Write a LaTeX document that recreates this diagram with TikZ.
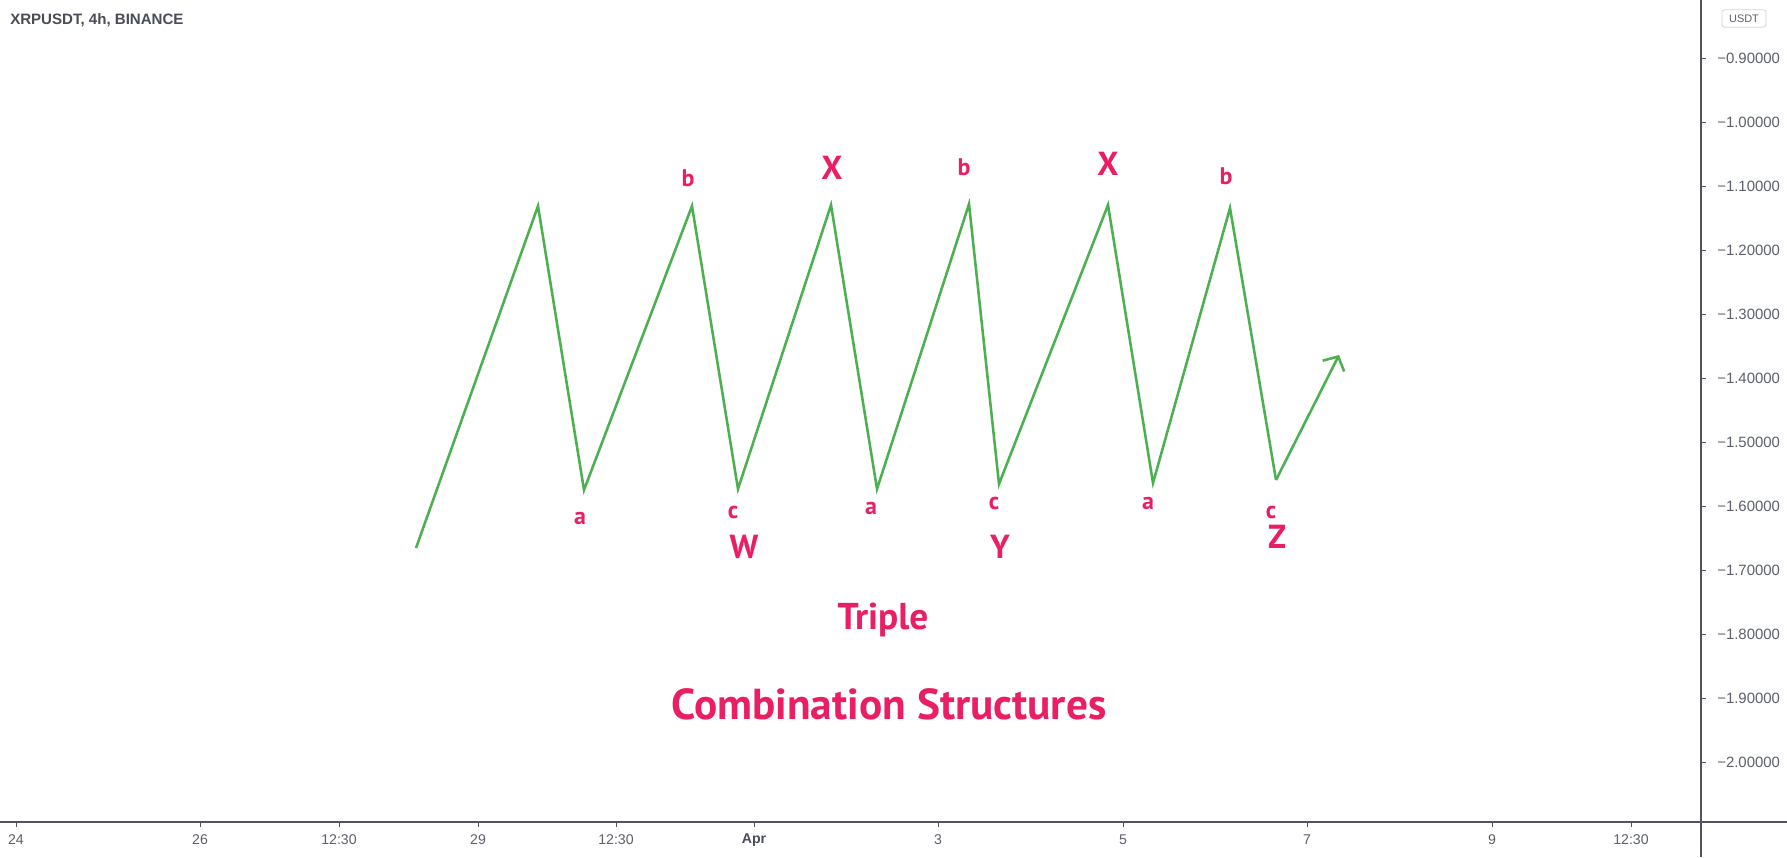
\documentclass[tikz,border=0pt]{standalone}
\usepackage{fontspec}
\setmainfont{PT Sans}
\newfontfamily\axisfont{Liberation Sans}
\usetikzlibrary{arrows.meta}
\definecolor{wave}{HTML}{4CAF50}
\definecolor{lab}{HTML}{E91E63}
\definecolor{axisline}{HTML}{50535E}
\definecolor{ticktext}{HTML}{5D606B}
\definecolor{boxline}{HTML}{D1D4DC}
\definecolor{titletext}{HTML}{4A4D59}
\begin{document}
\begin{tikzpicture}[x=0.75pt,y=-0.75pt,
  wavepath/.style={draw=wave, line width=1.9pt, line join=miter},
  smalllab/.style={text=lab, font=\bfseries\fontsize{18}{18}\selectfont, inner sep=0pt},
  biglab/.style={text=lab, font=\bfseries\fontsize{25}{25}\selectfont, inner sep=0pt},
  titlelab/.style={text=lab, font=\bfseries\fontsize{28}{28}\selectfont, inner sep=0pt, anchor=base},
  headlab/.style={text=lab, font=\bfseries\fontsize{32.5}{32.5}\selectfont, inner sep=0pt, anchor=base},
  axisrule/.style={draw=axisline, line width=0.9pt},
  tickmark/.style={draw=axisline, line width=0.75pt},
  pricelab/.style={text=ticktext, font=\axisfont\fontsize{11.2}{11.2}\selectfont, inner sep=0pt, anchor=west},
  timelab/.style={text=ticktext, font=\axisfont\fontsize{10.6}{10.6}\selectfont, inner sep=0pt},
]
\useasboundingbox[fill=white] (0,0) rectangle (1787,857);

% chart title
\node[text=titletext, font=\axisfont\bfseries\fontsize{11.3}{11.3}\selectfont, inner sep=0pt, anchor=west] (title) at (10,20) {XRPUSDT, 4h, BINANCE};

% axes
\draw[axisrule] (0,822) -- (1787,822);
\draw[axisrule] (1701,0) -- (1701,857);

% currency box
\node[draw=boxline, rounded corners=2pt, line width=0.6pt, text=ticktext,
      font=\axisfont\fontsize{8.2}{8.2}\selectfont, minimum width=33pt, minimum height=13pt, inner sep=0pt]
      (usdt) at (1744,18.5) {USDT};

% price scale
\foreach \v/\t [count=\i from 0] in {0.90000/a,1.00000/b,1.10000/c,1.20000/d,1.30000/e,1.40000/f,1.50000/g,1.60000/h,1.70000/i,1.80000/j,1.90000/k,2.00000/l}{
  \draw[tickmark] (1701,58+64*\i) -- (1706,58+64*\i);
  \node[pricelab] (price\t) at (1717,58+64*\i) {−\v};
}

% time scale
\foreach \x/\t/\n in {16/24/ta,200/26/tb,339/12:30/tc,478/29/td,616/12:30/te,938/3/tg,1123/5/th,1307/7/ti,1492/9/tj,1631/12:30/tk}{
  \draw[tickmark] (\x,822) -- (\x,827);
  \node[timelab] (\n) at (\x,840) {\t};
}
\draw[tickmark] (754,822) -- (754,827);
\node[timelab, font=\axisfont\bfseries\fontsize{10.6}{10.6}\selectfont, text=titletext] (tf) at (754,840) {Apr};

% wave pivots
\coordinate (p0) at (416,548);
\coordinate (p1) at (538,206);
\coordinate (p2) at (584,490);
\coordinate (p3) at (692,206);
\coordinate (p4) at (738,489);
\coordinate (p5) at (831,205);
\coordinate (p6) at (877,489);
\coordinate (p7) at (969,204);
\coordinate (p8) at (999,484);
\coordinate (p9) at (1108,205);
\coordinate (p10) at (1153,483);
\coordinate (p11) at (1230,208);
\coordinate (p12) at (1276,480);
\coordinate (p13) at (1339,355);

\draw[wavepath] (p0) -- (p1) -- (p2) -- (p3) -- (p4) -- (p5) -- (p6) -- (p7) -- (p8) -- (p9) -- (p10) -- (p11) -- (p12);
\draw[wavepath, -{Straight Barb[length=8pt, width=18pt, line width=1.9pt]}] (p12) -- (p13);

% wave labels
\node[smalllab] (la1) at (580,518) {a};
\node[smalllab] (lb1) at (688,178) {b};
\node[biglab]   (lx1) at (832,168) {X};
\node[smalllab] (lc1) at (733,512) {c};
\node[biglab]   (lw)  at (744,547) {W};
\node[smalllab] (la2) at (871,508) {a};
\node[smalllab] (lb2) at (964,167) {b};
\node[biglab]   (lx2) at (1108,164) {X};
\node[smalllab] (lc2) at (994,503) {c};
\node[biglab]   (ly)  at (1000,547) {Y};
\node[smalllab] (la3) at (1148,503) {a};
\node[smalllab] (lb3) at (1226,176) {b};
\node[smalllab] (lc3) at (1271,512) {c};
\node[biglab]   (lz)  at (1277,537) {Z};

% captions
\node[titlelab] (triple) at (883,629) {Triple};
\node[headlab] (comb) at (889,719) {Combination Structures};
\end{tikzpicture}
\end{document}
